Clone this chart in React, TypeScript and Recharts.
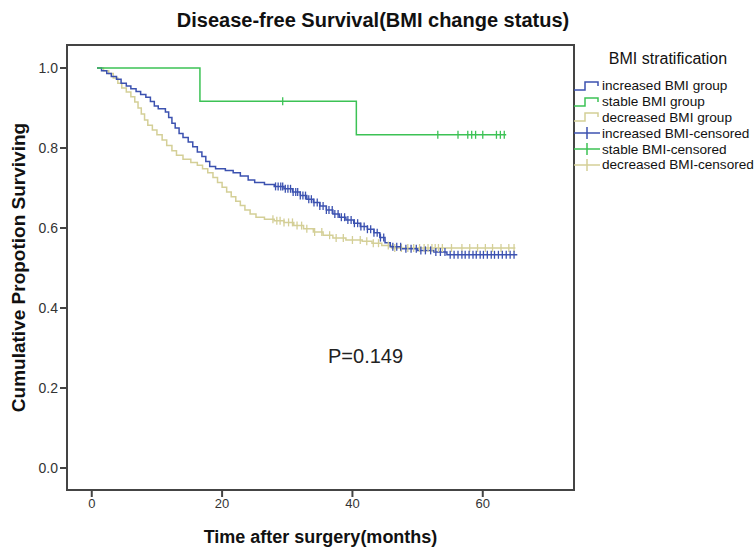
import React from 'react';
import { ComposedChart, Line, Scatter, XAxis, YAxis, ReferenceArea } from 'recharts';

// Kaplan-Meier step points [months, cumulative survival]
const increasedSteps: [number, number][] = [
  [0.8, 1.0], [1.5, 0.993], [2.3, 0.986], [3.0, 0.979], [3.8, 0.972], [4.5, 0.962],
  [5.3, 0.955], [6.0, 0.948], [6.8, 0.941], [7.5, 0.934], [8.3, 0.927], [9.0, 0.916],
  [9.6, 0.905], [10.2, 0.898], [11.3, 0.89], [11.8, 0.876], [12.3, 0.862], [12.8, 0.85],
  [13.4, 0.836], [14.0, 0.826], [14.8, 0.815], [15.5, 0.803], [16.2, 0.79], [16.9, 0.779],
  [17.5, 0.766], [18.1, 0.754], [19.0, 0.748], [20.5, 0.744], [21.7, 0.738], [22.8, 0.73],
  [24.0, 0.72], [25.0, 0.714], [26.5, 0.709], [28.0, 0.704], [29.5, 0.698], [30.8, 0.69],
  [32.0, 0.681], [33.0, 0.672], [34.0, 0.664], [35.0, 0.655], [36.0, 0.645], [37.0, 0.635],
  [38.0, 0.627], [39.0, 0.62], [40.2, 0.612], [41.2, 0.604], [42.3, 0.597], [43.3, 0.588],
  [44.2, 0.576], [45.0, 0.563], [45.8, 0.553], [47.5, 0.548], [50.0, 0.544], [52.5, 0.54],
  [54.5, 0.533], [65.3, 0.533],
];

const stableSteps: [number, number][] = [
  [0.8, 1.0], [16.6, 0.917], [40.6, 0.833], [63.6, 0.833],
];

const decreasedSteps: [number, number][] = [
  [0.8, 1.0], [1.8, 0.993], [2.6, 0.986], [3.3, 0.975], [4.0, 0.962], [4.6, 0.95],
  [5.3, 0.94], [6.0, 0.928], [6.6, 0.915], [7.1, 0.9], [7.6, 0.885], [8.1, 0.87],
  [8.6, 0.857], [9.3, 0.845], [10.0, 0.833], [10.8, 0.82], [11.5, 0.806], [12.3, 0.793],
  [13.0, 0.782], [14.0, 0.772], [15.2, 0.764], [16.2, 0.757], [17.0, 0.748], [17.8, 0.738],
  [18.6, 0.726], [19.3, 0.714], [20.0, 0.702], [20.7, 0.69], [21.4, 0.678], [22.1, 0.667],
  [22.8, 0.656], [23.5, 0.645], [24.3, 0.635], [25.2, 0.627], [26.5, 0.622], [28.0, 0.618],
  [29.5, 0.614], [31.0, 0.606], [32.5, 0.598], [34.0, 0.59], [35.5, 0.582], [37.0, 0.575],
  [39.0, 0.57], [41.5, 0.567], [43.0, 0.562], [44.5, 0.556], [46.0, 0.55], [65.0, 0.55],
];

// censoring times (months)
const increasedCensored = [
  28.2, 28.6, 29.0, 29.3, 29.7, 30.1, 30.5, 30.9, 31.3, 31.6, 32.0, 32.4, 32.8, 33.3, 33.7,
  34.1, 34.6, 35.0, 35.5, 36.0, 36.4, 36.9, 37.3, 37.8, 38.3, 38.8, 39.3, 39.8, 40.3, 40.8,
  41.3, 41.8, 42.3, 42.8, 43.3, 43.8, 44.3, 44.8, 46.2, 46.8, 47.4, 48.2, 49.0, 49.8, 50.5,
  51.2, 52.0, 52.8, 53.5, 54.2, 55.0, 55.6, 56.2, 56.8, 57.3, 57.9, 58.5, 59.0, 59.6, 60.1,
  60.7, 61.3, 61.8, 62.4, 63.0, 63.6, 64.2, 64.8,
];
const stableCensored = [29.3, 53.1, 56.2, 57.7, 58.3, 58.9, 60.0, 62.1, 62.7, 63.3];
const decreasedCensored = [
  27.8, 28.4, 28.9, 29.5, 30.2, 30.8, 31.5, 32.2, 33.0, 34.2, 35.3, 36.5, 37.5, 38.6, 40.0,
  41.2, 42.2, 43.2, 44.0, 45.5, 46.5, 47.5, 48.5, 49.4, 50.3, 51.0, 51.6, 52.2, 52.7, 53.2,
  53.8, 55.2, 56.8, 58.0, 59.2, 60.4, 61.5, 62.8, 64.0, 64.8,
];

const xTicks = [0, 20, 40, 60];
const yTicks = [0, 0.2, 0.4, 0.6, 0.8, 1.0];

const BLUE = '#3c52b0';
const GREEN = '#3cc255';
const TAN = '#d4cf97';
const AXIS = '#444';
const FONT = '"Liberation Sans", Arial, sans-serif';

const toPoints = (rows: [number, number][]) => rows.map(([t, s]) => ({ t, s }));

// survival level of the step curve at time t (where the + mark sits)
const levelAt = (rows: [number, number][], t: number) => {
  let s = rows[0][1];
  for (const [rt, rs] of rows) if (rt <= t) s = rs;
  return s;
};
const censorPoints = (rows: [number, number][], times: number[]) =>
  times.map((t) => ({ t, s: levelAt(rows, t) }));

const CensorMark = (props: any) => {
  const { cx, cy, fill } = props;
  if (cx == null || cy == null) return null;
  return <line x1={cx} x2={cx} y1={cy - 4} y2={cy + 4} stroke={fill} strokeWidth={1.3} />;
};

const YLabel = (props: any) => {
  const { viewBox } = props;
  const x = viewBox.x + 11;
  const y = viewBox.y + viewBox.height / 2;
  return (
    <text x={x} y={y} transform={`rotate(-90 ${x} ${y})`} textAnchor="middle" dominantBaseline="central"
      fill="#111" fontSize={19} fontWeight="bold" fontFamily={FONT}>
      Cumulative Propotion Surviving
    </text>
  );
};

const legendItems = [
  { label: 'increased BMI group', color: BLUE, kind: 'step' },
  { label: 'stable BMI group', color: GREEN, kind: 'step' },
  { label: 'decreased BMI group', color: TAN, kind: 'step' },
  { label: 'increased BMI-censored', color: BLUE, kind: 'cens' },
  { label: 'stable BMI-censored', color: GREEN, kind: 'cens' },
  { label: 'decreased BMI-censored', color: TAN, kind: 'cens' },
];

export default function App() {
  return (
    <div style={{ position: 'absolute', left: 0, top: 0, width: 756, height: 548, background: '#fff', fontFamily: FONT }}>
      <div style={{ position: 'absolute', left: 173, width: 400, top: 9, textAlign: 'center', fontSize: 20, fontWeight: 'bold', color: '#111', whiteSpace: 'nowrap' }}>
        Disease-free Survival(BMI change status)
      </div>

      <ComposedChart width={756} height={548} margin={{ top: 45, right: 182, bottom: 28, left: 7 }}>
        <XAxis
          type="number"
          dataKey="t"
          domain={[-3.8, 74]}
          ticks={xTicks}
          allowDataOverflow
          stroke={AXIS}
          strokeWidth={2}
          tickSize={7}
          tick={{ fill: '#333', fontSize: 13, fontFamily: FONT }}
          label={{ value: 'Time after surgery(months)', position: 'bottom', offset: 10, fill: '#111', fontSize: 18, fontWeight: 'bold', fontFamily: FONT }}
        />
        <YAxis
          type="number"
          dataKey="s"
          domain={[-0.055, 1.0575]}
          ticks={yTicks}
          allowDataOverflow
          width={60}
          stroke={AXIS}
          strokeWidth={2}
          tickSize={7}
          tickFormatter={(v: number) => v.toFixed(1)}
          tick={{ fill: '#333', fontSize: 14, fontFamily: FONT }}
          label={{ content: YLabel }}
        />
        <ReferenceArea x1={-3.8} x2={74} y1={-0.055} y2={1.0575} fill="none" stroke={AXIS} strokeWidth={2} />

        <Line data={toPoints(decreasedSteps)} dataKey="s" type="stepAfter" stroke={TAN} strokeWidth={1.5} dot={false} isAnimationActive={false} />
        <Line data={toPoints(increasedSteps)} dataKey="s" type="stepAfter" stroke={BLUE} strokeWidth={1.5} dot={false} isAnimationActive={false} />
        <Line data={toPoints(stableSteps)} dataKey="s" type="stepAfter" stroke={GREEN} strokeWidth={1.5} dot={false} isAnimationActive={false} />

        <Scatter data={censorPoints(decreasedSteps, decreasedCensored)} dataKey="s" fill={TAN} shape={CensorMark} isAnimationActive={false} />
        <Scatter data={censorPoints(increasedSteps, increasedCensored)} dataKey="s" fill={BLUE} shape={CensorMark} isAnimationActive={false} />
        <Scatter data={censorPoints(stableSteps, stableCensored)} dataKey="s" fill={GREEN} shape={CensorMark} isAnimationActive={false} />
      </ComposedChart>

      <div style={{ position: 'absolute', left: 328, top: 345, fontSize: 20, color: '#222' }}>P=0.149</div>

      <div style={{ position: 'absolute', left: 574, top: 50, width: 182 }}>
        <div style={{ textAlign: 'center', paddingLeft: 6, fontSize: 16, color: '#111', height: 28 }}>BMI stratification</div>
        {legendItems.map((it) => (
          <div key={it.label} style={{ display: 'flex', alignItems: 'center', height: 15.8, fontSize: 13.6, color: '#111', whiteSpace: 'nowrap' }}>
            <svg width={28} height={14} style={{ flex: 'none' }}>
              {it.kind === 'step' ? (
                <path d="M0,11 H11 V3 H24 V7" fill="none" stroke={it.color} strokeWidth={1.5} />
              ) : (
                <g stroke={it.color} strokeWidth={1.5}>
                  <line x1={0} x2={26} y1={7} y2={7} />
                  <line x1={13} x2={13} y1={1} y2={13} />
                </g>
              )}
            </svg>
            <span>{it.label}</span>
          </div>
        ))}
      </div>
    </div>
  );
}
